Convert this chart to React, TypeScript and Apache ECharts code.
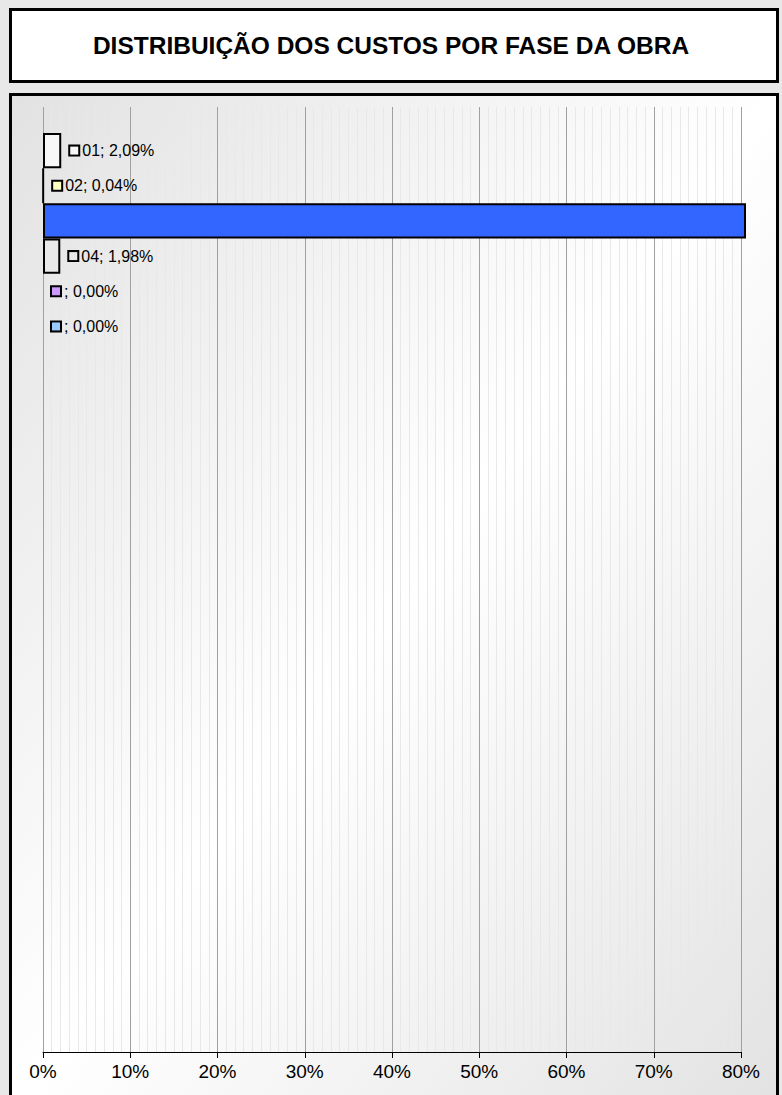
import React, { useEffect, useRef } from "react";
import * as echarts from "echarts";

const titleText = "DISTRIBUIÇÃO DOS CUSTOS POR FASE DA OBRA";
const phases = ["01", "02", "03", "04", "", ""];
const shares = [2.09, 0.04, 95.89, 1.98, 0.0, 0.0];
const barColors = ["#f7f7f7", "#ffffc4", "#3366ff", "#e9e9e9", "#cc99ff", "#99ccff"];
const shownLabels = [true, true, false, true, true, true];
const axisMin = 0;
const axisMax = 80;
const axisStep = 10;

const FONT = "Liberation Sans, Arial, Helvetica, sans-serif";

function fmt(v: number) {
  return v.toFixed(2).replace(".", ",") + "%";
}

export default function App() {
  const ref = useRef<HTMLDivElement>(null);
  useEffect(() => {
    if (!ref.current) return;
    const chart = echarts.init(ref.current, undefined, { renderer: "svg" });
    const plotLeft = 43;
    const plotRight = 741;
    const clipRight = 745;
    const pxPerUnit = (plotRight - plotLeft) / (axisMax - axisMin);
    const barMax = axisMin + (clipRight - plotLeft) / pxPerUnit;

    const data = shares.map((v, i) => ({
      value: v,
      itemStyle: {
        color: barColors[i],
        borderColor: "#000",
        borderWidth: v > 0 ? 2 : 0,
      },
      label: {
        show: shownLabels[i],
        rich: {
          sq: {
            width: 8,
            height: 8,
            backgroundColor: barColors[i],
            borderColor: "#000",
            borderWidth: 2,
          },
          t: {
            fontSize: 16,
            fontFamily: FONT,
            color: "#000",
            padding: [0, 0, 0, 4],
          },
        },
      },
    }));

    chart.setOption({
      animation: false,
      graphic: {
        elements: [
          {
            type: "rect",
            z: -10,
            shape: { x: 10.5, y: 9.5, width: 767, height: 72 },
            style: { fill: "#ffffff", stroke: "#000", lineWidth: 3 },
          },
          {
            type: "rect",
            z: -10,
            shape: { x: 10.5, y: 94.5, width: 767, height: 1020 },
            style: {
              fill: new echarts.graphic.LinearGradient(0, 0, 1, 1, [
                { offset: 0, color: "#e2e2e2" },
                { offset: 0.5, color: "#ffffff" },
                { offset: 1, color: "#e2e2e2" },
              ]),
              stroke: "#000",
              lineWidth: 3,
            },
          },
          {
            type: "text",
            z: 10,
            x: 391,
            y: 45,
            style: {
              text: titleText,
              fontSize: 24.5,
              fontWeight: "bold",
              fontFamily: FONT,
              fill: "#000",
              align: "center",
              verticalAlign: "middle",
            },
          },
        ],
      },
      grid: [
        { left: plotLeft, width: plotRight - plotLeft, top: 107, height: 1052 - 107 },
        { left: plotLeft, width: clipRight - plotLeft, top: 133, height: 35.17 * phases.length },
      ],
      xAxis: [
        {
          type: "value",
          gridIndex: 0,
          min: axisMin,
          max: axisMax,
          interval: axisStep,
          axisLine: { show: true, lineStyle: { color: "#000", width: 1 } },
          axisTick: { show: true, length: 6, lineStyle: { color: "#000" } },
          axisLabel: {
            fontSize: 19,
            fontFamily: FONT,
            color: "#000",
            margin: 10,
            formatter: (v: number) => v + "%",
          },
          splitLine: { show: true, lineStyle: { color: "#a0a0a0", width: 1 } },
          minorTick: { show: false, splitNumber: 10 },
          minorSplitLine: { show: true, lineStyle: { color: "#e8e8e8", width: 1 } },
        },
        {
          type: "value",
          gridIndex: 1,
          min: axisMin,
          max: barMax,
          show: false,
          splitLine: { show: false },
        },
      ],
      yAxis: [
        {
          type: "category",
          gridIndex: 0,
          data: ["x"],
          show: false,
        },
        {
          type: "category",
          gridIndex: 1,
          data: phases.map((p, i) => p + "#" + i),
          inverse: true,
          show: false,
        },
      ],
      series: [
        {
          type: "bar",
          xAxisIndex: 1,
          yAxisIndex: 1,
          data,
          barWidth: "100%",
          barCategoryGap: "0%",
          clip: true,
          label: {
            show: true,
            position: "right",
            distance: 9,
            formatter: (p: any) => "{sq|}{t|" + phases[p.dataIndex] + "; " + fmt(shares[p.dataIndex]) + "}",
          },
        },
      ],
    });
    return () => chart.dispose();
  }, []);
  return (
    <div style={{ position: "fixed", left: 0, top: 0, width: 782, height: 1095, background: "#e8e8e8" }}>
      <div ref={ref} style={{ width: 782, height: 1095 }} />
    </div>
  );
}
